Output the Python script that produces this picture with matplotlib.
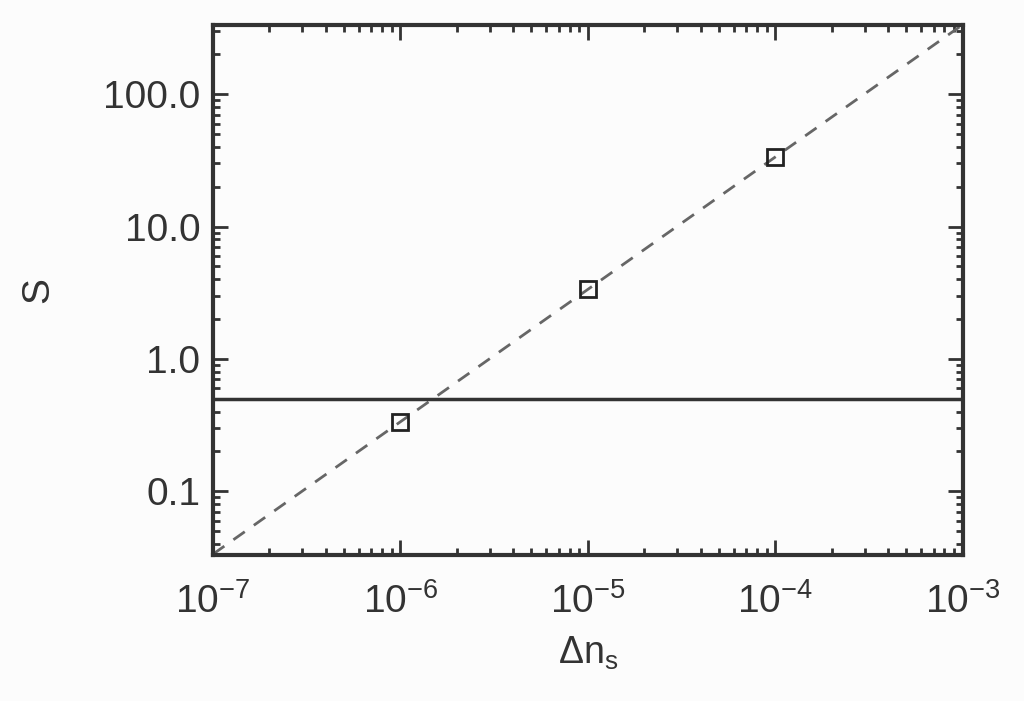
import matplotlib
matplotlib.use("Agg")
import matplotlib.pyplot as plt
from matplotlib.ticker import LogLocator, FixedLocator, FixedFormatter, NullFormatter
import numpy as np

plt.rcParams['font.family'] = ['Liberation Sans', 'DejaVu Sans']
plt.rcParams['mathtext.fontset'] = 'custom'
plt.rcParams['mathtext.rm'] = 'Liberation Sans'
plt.rcParams['mathtext.it'] = 'Liberation Sans'

dn_points = [1e-6, 1e-5, 1e-4]
S_points = [0.335, 3.35, 33.5]
fit_x = [1e-7, 1e-3]
fit_y = [0.0335, 335.0]
threshold = 0.5

yticks = [0.1, 1.0, 10.0, 100.0]
ytick_labels = ["0.1", "1.0", "10.0", "100.0"]
xticks = [1e-7, 1e-6, 1e-5, 1e-4, 1e-3]
xtick_labels = [r"$\mathregular{10^{-7}}$", r"$\mathregular{10^{-6}}$", r"$\mathregular{10^{-5}}$",
                r"$\mathregular{10^{-4}}$", r"$\mathregular{10^{-3}}$"]

fig = plt.figure(figsize=(10.24, 7.01), dpi=100, facecolor='#fcfcfc')
ax = fig.add_axes([0.208, 0.208, 0.732, 0.756])
ax.set_facecolor('#fcfcfc')
ax.set_xscale('log')
ax.set_yscale('log')
ax.set_xlim(1e-7, 1e-3)
ax.set_ylim(0.0329, 332)

ax.plot(fit_x, fit_y, color='#666666', lw=2, dashes=(5, 4))
ax.axhline(threshold, color='#333333', lw=2.5)
ax.plot(dn_points, S_points, linestyle='none', marker='s', markersize=12,
        markerfacecolor='none', markeredgecolor='#222222', markeredgewidth=2)

ax.xaxis.set_major_locator(FixedLocator(xticks))
ax.xaxis.set_major_formatter(FixedFormatter(xtick_labels))
ax.yaxis.set_major_locator(FixedLocator(yticks))
ax.yaxis.set_major_formatter(FixedFormatter(ytick_labels))
ax.xaxis.set_minor_locator(LogLocator(base=10, subs=np.arange(2, 10), numticks=20))
ax.yaxis.set_minor_locator(LogLocator(base=10, subs=np.arange(2, 10), numticks=20))
ax.xaxis.set_minor_formatter(NullFormatter())
ax.yaxis.set_minor_formatter(NullFormatter())

ax.tick_params(which='both', direction='in', top=True, right=True, colors='#333333',
               labelcolor='#333333', labelsize=28)
ax.tick_params(which='major', length=11, width=2)
ax.tick_params(which='minor', length=5, width=2)
ax.tick_params(axis='x', which='major', pad=20)
ax.tick_params(axis='y', which='major', pad=9)
for s in ax.spines.values():
    s.set_linewidth(3)
    s.set_color('#333333')

ax.set_xlabel(r"$\mathregular{\Delta n_s}$", fontsize=27, color='#333333', labelpad=10)
ax.set_ylabel("S", fontsize=28, color='#333333', labelpad=34)

fig.savefig("out.png", dpi=100, facecolor='#fcfcfc')
